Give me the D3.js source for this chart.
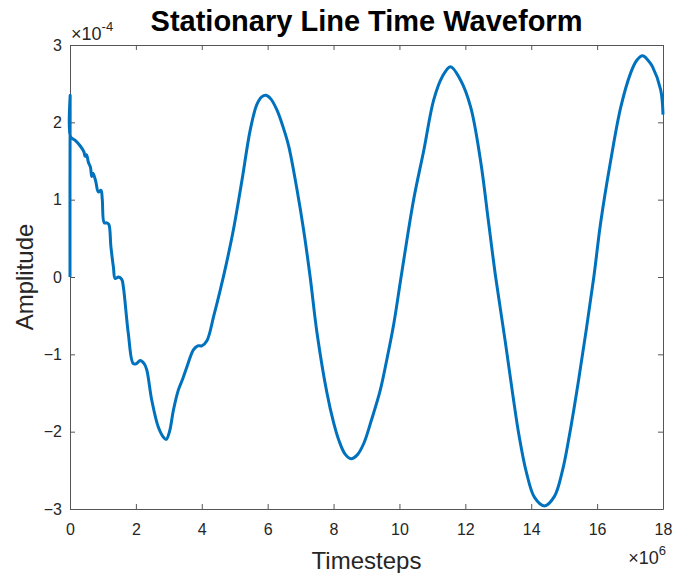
<!DOCTYPE html>
<html>
<head>
<meta charset="utf-8">
<script src="https://cdn.jsdelivr.net/npm/d3@7"></script>
<style>
  body { margin: 0; background: #fff; }
  svg { display: block; font-family: "Liberation Sans", Arial, sans-serif; }
  .axis text { fill: #262626; font-size: 16px; font-family: "Liberation Sans", Arial, sans-serif; }
  .axis path, .axis line { stroke: #555; }
</style>
</head>
<body>
<div id="chart"></div>
<script>
// timesteps in units of 1e6, amplitude in units of 1e-4
const timesteps = [
  0, 0.005, 0.02, 0.15, 0.3, 0.42, 0.46, 0.5, 0.56, 0.62, 0.66, 0.7, 0.78, 0.86, 0.94, 0.98,
  1.04, 1.12, 1.18, 1.24, 1.32, 1.37, 1.47, 1.57, 1.62, 1.77, 1.92, 2.02, 2.13, 2.25, 2.33,
  2.48, 2.68, 2.85, 2.92, 3.02, 3.14, 3.29, 3.42, 3.55, 3.75, 3.88, 4.0, 4.16, 4.36, 4.56,
  4.75, 4.96, 5.22, 5.47, 5.67, 5.82, 5.95, 6.1, 6.28, 6.46, 6.64, 6.89, 7.09, 7.29, 7.5,
  7.8, 8.0, 8.16, 8.35, 8.53, 8.72, 8.92, 9.15, 9.42, 9.63, 9.83, 10.05, 10.43, 10.74, 11.04,
  11.3, 11.55, 11.85, 12.16, 12.46, 12.71, 12.92, 13.2, 13.45, 13.63, 13.85, 14.1, 14.4, 14.7,
  14.95, 15.15, 15.45, 15.9, 16.1, 16.41, 16.72, 17.02, 17.2, 17.38, 17.55, 17.68, 17.93, 18.0
]
const amplitude = [
  0, 2.35, 1.81, 1.77, 1.70, 1.62, 1.56, 1.58, 1.48, 1.42, 1.30, 1.34, 1.24, 1.10, 1.12, 1.0,
  0.70, 0.70, 0.68, 0.40, 0.12, -0.02, 0.0, -0.03, -0.13, -0.73, -1.12, -1.12, -1.08, -1.12, -1.20,
  -1.59, -1.94, -2.08, -2.10, -2.0, -1.72, -1.46, -1.32, -1.16, -0.94, -0.89, -0.89, -0.82, -0.51, -0.17,
  0.18, 0.61, 1.25, 1.90, 2.23, 2.33, 2.35, 2.30, 2.16, 1.95, 1.69, 1.13, 0.61, 0.0, -0.73,
  -1.50, -1.88, -2.11, -2.29, -2.35, -2.30, -2.15, -1.85, -1.46, -1.04, -0.60, 0.0, 1.0, 1.64, 2.29,
  2.59, 2.72, 2.55, 2.20, 1.51, 0.69, 0.0, -0.80, -1.55, -2.05, -2.52, -2.85, -2.96, -2.84,
  -2.5, -2.07, -1.30, 0.0, 0.68, 1.50, 2.20, 2.64, 2.80, 2.86, 2.80, 2.72, 2.42, 2.10
]
const xTicks = [0, 2, 4, 6, 8, 10, 12, 14, 16, 18]
const yTicks = [-3, -2, -1, 0, 1, 2, 3]

const width = 674, height = 573
const margin = {top: 45, right: 11, bottom: 64, left: 70}

const svg = d3.select("#chart").append("svg")
  .attr("width", width)
  .attr("height", height)

const x = d3.scaleLinear()
  .domain([0, 18])
  .range([margin.left, width - margin.right])

const y = d3.scaleLinear()
  .domain([-3, 3])
  .range([height - margin.bottom, margin.top])

const data = timesteps.map((t, i) => [t, amplitude[i]])

const line = d3.line()
  .x(d => x(d[0]))
  .y(d => y(d[1]))
  .curve(d3.curveCatmullRom.alpha(0.5))

// box with inward ticks
svg.append("g")
  .attr("class", "axis")
  .attr("transform", `translate(0,${y(-3)})`)
  .call(d3.axisBottom(x).tickValues(xTicks).tickSize(-5).tickSizeOuter(0).tickPadding(15).tickFormat(d3.format("d")))

svg.append("g")
  .attr("class", "axis")
  .attr("transform", `translate(0,${y(3)})`)
  .call(d3.axisTop(x).tickValues(xTicks).tickSize(-5).tickSizeOuter(0).tickFormat(""))

svg.append("g")
  .attr("class", "axis")
  .attr("transform", `translate(${x(0)},0)`)
  .call(d3.axisLeft(y).tickValues(yTicks).tickSize(-5).tickSizeOuter(0).tickPadding(8).tickFormat(d3.format("d")))

svg.append("g")
  .attr("class", "axis")
  .attr("transform", `translate(${x(18)},0)`)
  .call(d3.axisRight(y).tickValues(yTicks).tickSize(-5).tickSizeOuter(0).tickFormat(""))

// the waveform sits on top of the axes, like matlab
svg.append("path")
  .datum(data)
  .attr("fill", "none")
  .attr("stroke", "#0072BD")
  .attr("stroke-width", 3)
  .attr("stroke-linejoin", "round")
  .attr("d", line)

// exponent labels
const expY = svg.append("text")
  .attr("x", x(0) + 1)
  .attr("y", 40)
  .attr("font-size", 18)
  .attr("fill", "#262626")
expY.append("tspan").text("\u00d710")
expY.append("tspan").attr("dy", -9).attr("font-size", 13).text("-4")

const expX = svg.append("text")
  .attr("x", 666)
  .attr("y", 564)
  .attr("text-anchor", "end")
  .attr("font-size", 18)
  .attr("fill", "#262626")
expX.append("tspan").text("\u00d710")
expX.append("tspan").attr("dy", -9).attr("font-size", 13).text("6")

// title and labels
svg.append("text")
  .attr("x", (x(0) + x(18)) / 2)
  .attr("y", 31)
  .attr("text-anchor", "middle")
  .attr("font-size", 29)
  .attr("font-weight", "bold")
  .attr("fill", "#000")
  .text("Stationary Line Time Waveform")

svg.append("text")
  .attr("x", (x(0) + x(18)) / 2)
  .attr("y", 569)
  .attr("text-anchor", "middle")
  .attr("font-size", 24)
  .attr("fill", "#262626")
  .text("Timesteps")

svg.append("text")
  .attr("transform", `translate(33,${y(0)}) rotate(-90)`)
  .attr("text-anchor", "middle")
  .attr("font-size", 24)
  .attr("fill", "#262626")
  .text("Amplitude")
</script>
</body>
</html>
